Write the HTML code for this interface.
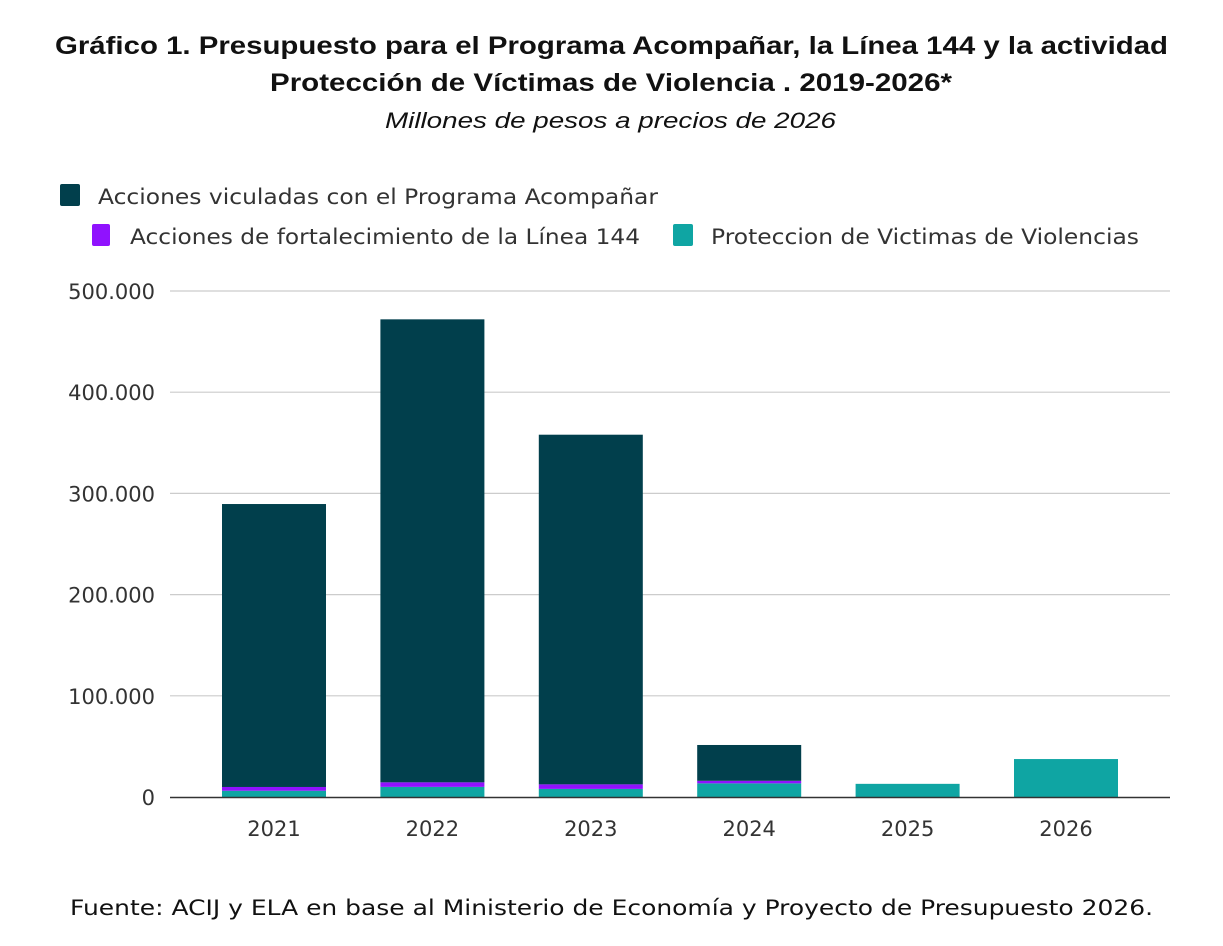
<!DOCTYPE html>
<html><head><meta charset="utf-8"><style>
body{margin:0;background:#fff;width:1223px;height:946px;overflow:hidden;font-family:"Liberation Sans","DejaVu Sans",sans-serif}
</style></head><body>
<svg width="1223" height="946" style="position:absolute;left:0;top:0">
<text x="55" y="54" textLength="1113" lengthAdjust="spacingAndGlyphs" font-size="25" font-weight="bold" fill="#111">Gráfico 1. Presupuesto para el Programa Acompañar, la Línea 144 y la actividad</text>
<text x="270" y="91" textLength="682" lengthAdjust="spacingAndGlyphs" font-size="25" font-weight="bold" fill="#111">Protección de Víctimas de Violencia . 2019-2026*</text>
<text x="385" y="128" textLength="451" lengthAdjust="spacingAndGlyphs" font-size="22" font-style="italic" fill="#111">Millones de pesos a precios de 2026</text>
<g font-family="DejaVu Sans, sans-serif" font-size="21" fill="#333">
<g><rect x="60" y="184" width="20" height="22" rx="2" fill="#013f4c"/><text x="98" y="204" textLength="560" lengthAdjust="spacingAndGlyphs">Acciones viculadas con el Programa Acompañar</text></g>
<g><rect x="92" y="224" width="18" height="22" rx="2" fill="#9012fe"/><text x="130" y="244" textLength="510" lengthAdjust="spacingAndGlyphs">Acciones de fortalecimiento de la Línea 144</text></g>
<g><rect x="673" y="224" width="20" height="22" rx="2" fill="#0fa5a3"/><text x="711" y="244" textLength="428" lengthAdjust="spacingAndGlyphs">Proteccion de Victimas de Violencias</text></g>
</g>
<g id="grid"></g><g id="bars"></g><g id="axis"></g>
<text x="70" y="915" textLength="1083" lengthAdjust="spacingAndGlyphs" font-size="21" fill="#111" font-family="DejaVu Sans, sans-serif">Fuente: ACIJ y ELA en base al Ministerio de Economía y Proyecto de Presupuesto 2026.</text>
</svg>
<script>
const categories=["2021","2022","2023","2024","2025","2026"];
const acompanar=[279600,457500,345500,35400,0,0];
const linea144=[3700,4500,4500,2500,0,0];
const proteccion=[6200,10000,8000,13500,13000,37500];
const yTicks=[0,100000,200000,300000,400000,500000];
const yTickLabels=["0","100.000","200.000","300.000","400.000","500.000"];
const NS="http://www.w3.org/2000/svg";
const y=v=>797-v*(506/500000);
const x=i=>274+i*158.4;
const bw=104;
function mk(t,a,p){const e=document.createElementNS(NS,t);for(const k in a)e.setAttribute(k,a[k]);p.appendChild(e);return e;}
const grid=document.getElementById('grid'),bars=document.getElementById('bars'),axis=document.getElementById('axis');
yTicks.forEach((v,i)=>{
 if(v>0){const l=mk('line',{x1:170,x2:1170,y1:y(v),y2:y(v),stroke:'#ccc','stroke-width':1.2},grid);
 
 }
 const t=mk('text',{x:155,y:y(v)+8,'text-anchor':'end','font-size':21,fill:'#333','font-family':'DejaVu Sans, sans-serif'},axis);
 t.textContent=yTickLabels[i];
 
 
});
const series=[[proteccion,'#0fa5a3','proteccion'],[linea144,'#9012fe','linea-144'],[acompanar,'#013f4c','acompanar']];
categories.forEach((c,i)=>{
 let base=0;
 series.forEach(([arr,col,nm])=>{
  const v=arr[i]; if(v<=0)return;
  const r=mk('rect',{x:x(i)-bw/2,y:y(base+v),width:bw,height:y(base)-y(base+v),fill:col},bars);
  
  
  base+=v;
 });
 const t=mk('text',{x:x(i),y:836,'text-anchor':'middle','font-size':21,fill:'#333','font-family':'DejaVu Sans, sans-serif'},axis);
 t.textContent=c;
 
 
});
const ax=mk('line',{x1:170,x2:1170,y1:797.5,y2:797.5,stroke:'#333','stroke-width':1.5},axis);


</script>
</body></html>
